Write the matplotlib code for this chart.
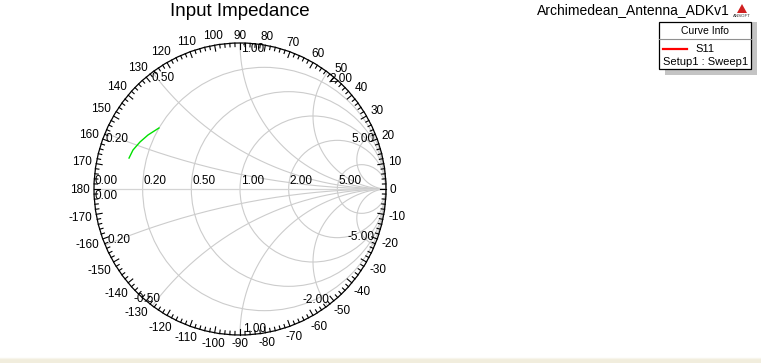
import numpy as np
import matplotlib
matplotlib.use("Agg")
import matplotlib.pyplot as plt
from matplotlib.patches import Rectangle, Circle, Polygon

plt.rcParams['font.family'] = ['Liberation Sans', 'DejaVu Sans']

# ---------------- data ----------------
title = "Input Impedance"
project = "Archimedean_Antenna_ADKv1"
trace_name = "S11"
trace_setup = "Setup1 : Sweep1"
resistance_values = [0.0, 0.2, 0.5, 1.0, 2.0, 5.0]
reactance_values = [0.2, 0.5, 1.0, 2.0, 5.0]
reactance_labels_pos = ["0.20", "0.50", "1.00", "2.00", "5.00"]
reactance_labels_neg = ["0.20", "-0.50", "1.00", "-2.00", "-5.00"]
angle_labels = list(range(-170, 190, 10))
# S11 trace (reflection coefficient, real / imaginary)
s11_real = [-0.760, -0.733, -0.685, -0.630, -0.555]
s11_imag = [0.212, 0.267, 0.322, 0.370, 0.418]

# ---------------- figure ----------------
W, H = 761, 363
fig = plt.figure(figsize=(W / 100, H / 100), dpi=100)
fig.patch.set_facecolor("white")

def fx(x):
    return x / W

def fy(y):
    return 1 - y / H

# Smith chart axes: centre (240,189) px, unit radius 146 px
cx, cy, R = 240, 189, 146
xl, yl = 1.3, 1.2
ax = fig.add_axes([fx(cx - xl * R), fy(cy + yl * R), 2 * xl * R / W, 2 * yl * R / H])
ax.set_xlim(-xl, xl)
ax.set_ylim(-yl, yl)
ax.axis("off")

grid_col = "#cccccc"
fs = 8.5

# resistance circles
for r in resistance_values[1:]:
    c = r / (1 + r)
    rad = 1 / (1 + r)
    ax.add_patch(Circle((c, 0), rad, fill=False, ec=grid_col, lw=0.8, zorder=1))

# reactance arcs (clipped to unit circle)
t = np.linspace(0, 2 * np.pi, 2000)
for xv in reactance_values:
    for s in (1, -1):
        xc, yc, rad = 1.0, s / xv, 1 / xv
        px = xc + rad * np.cos(t)
        py = yc + rad * np.sin(t)
        m = px ** 2 + py ** 2 <= 1.0 + 1e-9
        px = np.where(m, px, np.nan)
        py = np.where(m, py, np.nan)
        ax.plot(px, py, color=grid_col, lw=0.8, zorder=1)

# real axis
ax.plot([-1, 1], [0, 0], color="#d4d4d4", lw=0.9, zorder=1)

# outer circle
ax.add_patch(Circle((0, 0), 1, fill=False, ec="black", lw=0.9, zorder=3))

# ticks every 2 degrees
for a in range(0, 360, 2):
    ar = np.deg2rad(a)
    L = 6 / R if a % 10 == 0 else 3.5 / R
    ax.plot([np.cos(ar), (1 - L) * np.cos(ar)], [np.sin(ar), (1 - L) * np.sin(ar)],
            color="black", lw=0.8, zorder=3)

# angle labels: nearest edge of text box ~4-5 px outside the circle
renderer = fig.canvas.get_renderer()
r0 = 150.0 / R
for a in angle_labels:
    ar = np.deg2rad(a)
    txt = ax.text(r0 * np.cos(ar), r0 * np.sin(ar), str(a), ha="center", va="center",
                  fontsize=fs, color="black")
    bb = txt.get_window_extent(renderer=renderer)
    w, h = bb.width, bb.height * 0.7
    rr = r0 + ((w / 2) * abs(np.cos(ar)) + (h / 2) * abs(np.sin(ar))) / R
    txt.set_position((rr * np.cos(ar), rr * np.sin(ar) - 0.8 / R))

# resistance labels
for r in resistance_values:
    left = (r - 1) / (r + 1)
    ax.text(left + 0.005, 0.015, "%.2f" % r, ha="left", va="bottom", fontsize=fs)
ax.text(-1 + 0.005, -0.01, "%.2f" % resistance_values[0], ha="left", va="top", fontsize=fs)

# reactance labels
pos_align = [("left", "top", 0, 0), ("left", "top", -1, 0), ("left", "top", 1, 0),
             ("left", "top", 2, -1), ("right", "top", 0, 0)]
neg_align = [("left", "bottom", 2, -1), ("right", "bottom", 8, 1), ("left", "bottom", 3, 0),
             ("right", "bottom", 2, 0), ("right", "bottom", 0, 2)]
for xv, lab, (ha, va, dx, dy) in zip(reactance_values, reactance_labels_pos, pos_align):
    g = (1j * xv - 1) / (1j * xv + 1)
    ax.text(g.real + dx / R, g.imag + dy / R, lab, ha=ha, va=va, fontsize=fs)
for xv, lab, (ha, va, dx, dy) in zip(reactance_values, reactance_labels_neg, neg_align):
    g = (-1j * xv - 1) / (-1j * xv + 1)
    ax.text(g.real + dx / R, g.imag + dy / R, lab, ha=ha, va=va, fontsize=fs)

# S11 trace
ax.plot(s11_real, s11_imag, color="#00e000", lw=1.0, zorder=4)

# ---------------- text & legend ----------------
fig.text(fx(240), fy(11.5), title, ha="center", va="center", fontsize=13.5)
fig.text(fx(633), fy(10), project, ha="center", va="center", fontsize=10)

# logo
fig.add_artist(Polygon([(fx(742), fy(4)), (fx(737), fy(13)), (fx(747), fy(13))],
                       closed=True, fc="#d02020", ec="none", transform=fig.transFigure))
fig.text(fx(742), fy(16), "ANSOFT", ha="center", va="center", fontsize=3.2, color="#303030")

# legend box with shadow
fig.add_artist(Rectangle((fx(665), fy(75)), fx(92), 53 / H, transform=fig.transFigure,
                         fc="#c4c4c4", ec="none", zorder=1))
fig.add_artist(Rectangle((fx(659), fy(69)), fx(92), 47 / H, transform=fig.transFigure,
                         fc="white", ec="black", lw=0.9, zorder=2))
fig.add_artist(plt.Line2D([fx(659), fx(751)], [fy(39), fy(39)], transform=fig.transFigure,
                          color="#909090", lw=0.8, zorder=3))
fig.text(fx(705), fy(31), "Curve Info", ha="center", va="center", fontsize=7.5, zorder=3)
fig.add_artist(plt.Line2D([fx(663), fx(687)], [fy(49), fy(49)], transform=fig.transFigure,
                          color="#ff0000", lw=1.6, zorder=3))
fig.text(fx(695), fy(49), trace_name, ha="left", va="center", fontsize=8, zorder=3)
fig.text(fx(663), fy(62), trace_setup, ha="left", va="center", fontsize=8, zorder=3)

# bottom status strip
fig.add_artist(Rectangle((0, 0), 1, 5 / H, transform=fig.transFigure,
                         fc="#f1eddd", ec="none", zorder=1))
fig.add_artist(plt.Line2D([0, 1], [5 / H, 5 / H], transform=fig.transFigure,
                          color="#f7f5ec", lw=1, zorder=1))

fig.savefig("out.png", dpi=100, facecolor="white")
